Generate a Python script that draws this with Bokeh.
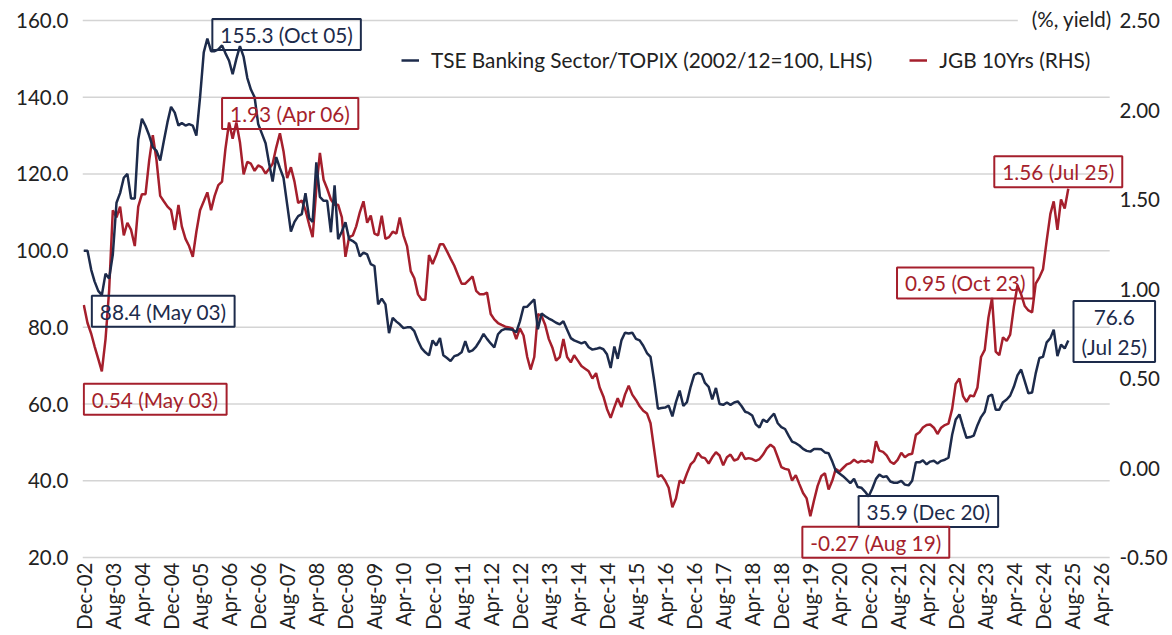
import pandas as pd
from bokeh.plotting import figure
from bokeh.models import (Range1d, LinearAxis, FixedTicker, NumeralTickFormatter,
                          DatetimeTickFormatter, Label)
from bokeh.embed import file_html
from bokeh.resources import INLINE

# ---------------- data (monthly, Dec-2002 .. Jul-2025) ----------------
start_month = "2002-12-01"

banking = [
    100.0, 100.0, 95.0, 92.0, 89.5, 88.4, 94.0, 92.7, 99.0, 112.5,
    115.0, 119.0, 120.0, 113.6, 113.6, 129.0, 134.4, 132.5, 130.0, 127.0,
    126.0, 123.5, 128.5, 133.5, 137.5, 136.0, 132.6, 133.3, 132.6, 133.0,
    132.6, 130.0, 140.0, 151.7, 155.3, 152.0, 152.0, 152.5, 153.5, 151.5,
    149.5, 146.0, 150.0, 153.3, 150.5, 145.0, 142.0, 140.0, 133.0, 130.5,
    128.0, 123.0, 118.0, 124.4, 121.5, 119.0, 112.0, 105.0, 107.5, 109.0,
    109.5, 115.0, 108.5, 107.5, 123.0, 114.0, 113.0, 113.0, 104.8, 117.0,
    103.0, 105.0, 107.4, 103.0, 102.5, 101.8, 98.5, 99.5, 99.0, 96.5,
    96.0, 86.0, 87.5, 86.0, 78.5, 82.5, 81.5, 80.8, 79.8, 80.0,
    80.0, 79.0, 76.5, 74.5, 73.5, 72.7, 76.6, 75.3, 77.2, 72.7,
    72.0, 71.2, 72.5, 72.8, 73.5, 76.4, 73.6, 74.0, 75.0, 76.5,
    78.3, 77.0, 75.8, 74.8, 78.2, 79.2, 79.6, 79.5, 79.4, 78.7,
    81.5, 85.3, 85.4, 86.3, 87.3, 79.5, 83.6, 82.9, 82.3, 81.8,
    81.2, 80.8, 81.6, 79.4, 77.2, 76.6, 76.2, 75.8, 76.2, 74.8,
    74.2, 74.4, 74.7, 74.3, 73.0, 69.4, 75.0, 71.8, 76.6, 78.6,
    78.4, 78.6, 77.0, 76.6, 75.2, 73.3, 72.3, 66.0, 58.8, 59.0,
    59.1, 59.6, 56.8, 60.5, 63.5, 59.5, 60.5, 64.5, 67.6, 68.1,
    67.8, 65.5, 64.5, 61.2, 64.2, 60.0, 59.8, 60.4, 59.8, 60.4,
    60.7, 59.5, 58.0, 57.7, 57.0, 54.7, 53.9, 56.0, 55.3, 56.5,
    57.5, 55.0, 54.0, 53.5, 51.7, 50.2, 49.8, 49.2, 48.3, 47.8,
    47.6, 48.3, 48.3, 48.2, 47.4, 47.2, 45.0, 42.6, 41.9, 41.2,
    40.3, 39.4, 40.5, 38.4, 38.2, 37.2, 35.9, 38.0, 40.5, 41.6,
    41.0, 41.2, 39.8, 39.5, 39.5, 40.0, 39.0, 38.8, 40.0, 44.8,
    44.8, 45.3, 44.3, 45.0, 45.2, 44.5, 45.2, 45.5, 46.0, 52.0,
    56.0, 57.3, 54.0, 51.2, 51.4, 51.8, 54.5, 56.6, 58.0, 62.0,
    62.5, 58.5, 58.5, 60.5, 61.2, 62.2, 64.5, 67.5, 69.0, 66.0,
    62.8, 63.0, 68.0, 72.0, 72.3, 76.1, 77.2, 79.4, 72.5, 75.5,
    74.5, 76.6,
]

jgb = [
    0.91, 0.81, 0.75, 0.68, 0.61, 0.54, 0.72, 0.99, 1.44, 1.40,
    1.46, 1.30, 1.37, 1.33, 1.24, 1.46, 1.53, 1.53, 1.72, 1.86,
    1.72, 1.52, 1.49, 1.46, 1.44, 1.33, 1.47, 1.35, 1.28, 1.24,
    1.18, 1.32, 1.44, 1.49, 1.54, 1.44, 1.52, 1.58, 1.60, 1.78,
    1.93, 1.84, 1.93, 1.82, 1.64, 1.71, 1.70, 1.66, 1.69, 1.68,
    1.645, 1.67, 1.70, 1.79, 1.87, 1.77, 1.62, 1.68, 1.60, 1.48,
    1.495, 1.44, 1.36, 1.29, 1.56, 1.76, 1.61, 1.56, 1.50, 1.47,
    1.47, 1.40, 1.18, 1.29, 1.30, 1.35, 1.43, 1.49, 1.37, 1.41,
    1.31, 1.30, 1.41, 1.28, 1.29, 1.32, 1.31, 1.40, 1.30, 1.24,
    1.10, 1.06, 0.97, 0.94, 0.94, 1.19, 1.14, 1.19, 1.25, 1.25,
    1.21, 1.17, 1.13, 1.08, 1.03, 1.03, 1.05, 1.07, 0.99, 0.97,
    0.97, 0.98, 0.86, 0.83, 0.81, 0.80, 0.79, 0.785, 0.78, 0.72,
    0.78, 0.74, 0.62, 0.55, 0.62, 0.86, 0.85, 0.80, 0.72, 0.67,
    0.60, 0.62, 0.72, 0.62, 0.59, 0.63, 0.60, 0.57, 0.555, 0.54,
    0.50, 0.53, 0.45, 0.40, 0.33, 0.28, 0.34, 0.39, 0.34, 0.41,
    0.46, 0.41, 0.38, 0.345, 0.32, 0.305, 0.25, 0.10, -0.05, -0.04,
    -0.07, -0.11, -0.22, -0.17, -0.07, -0.085, -0.03, 0.02, 0.04, 0.085,
    0.06, 0.055, 0.025, 0.06, 0.088, 0.07, 0.015, 0.06, 0.075, 0.042,
    0.05, 0.088, 0.05, 0.055, 0.05, 0.04, 0.05, 0.075, 0.11, 0.13,
    0.115, 0.06, 0.005, -0.005, -0.01, -0.07, -0.04, -0.09, -0.14, -0.17,
    -0.27, -0.18, -0.10, -0.045, -0.03, -0.12, -0.07, -0.005, -0.02, 0.00,
    0.02, 0.027, 0.046, 0.03, 0.04, 0.035, 0.042, 0.03, 0.15, 0.097,
    0.09, 0.07, 0.035, 0.023, 0.045, 0.085, 0.06, 0.075, 0.08, 0.185,
    0.20, 0.226, 0.24, 0.243, 0.225, 0.19, 0.225, 0.24, 0.248, 0.33,
    0.47, 0.50, 0.40, 0.37, 0.405, 0.40, 0.45, 0.62, 0.66, 0.84,
    0.95, 0.65, 0.63, 0.73, 0.71, 0.745, 0.90, 1.02, 0.97, 0.905,
    0.88, 0.87, 1.03, 1.065, 1.11, 1.27, 1.42, 1.49, 1.33, 1.50,
    1.45, 1.56,
]

left_ticks = [20, 40, 60, 80, 100, 120, 140, 160]
right_ticks = [-0.5, 0.0, 0.5, 1.0, 1.5, 2.0, 2.5]
tick_first, tick_last = "2002-12-01", "2026-04-01"

banking_name = "TSE Banking Sector/TOPIX (2002/12=100, LHS)"
jgb_name = "JGB 10Yrs (RHS)"

# call-outs: (text, month, value, series)
callouts = [
    ("155.3 (Oct 05)", "2005-10-01", 155.3, "bank"),
    ("88.4 (May 03)", "2003-05-01", 88.4, "bank"),
    ("35.9 (Dec 20)", "2020-12-01", 35.9, "bank"),
    ("76.6\n(Jul 25)", "2025-07-01", 76.6, "bank"),
    ("1.93 (Apr 06)", "2006-04-01", 1.93, "jgb"),
    ("0.54 (May 03)", "2003-05-01", 0.54, "jgb"),
    ("-0.27 (Aug 19)", "2019-08-01", -0.27, "jgb"),
    ("0.95 (Oct 23)", "2023-10-01", 0.95, "jgb"),
    ("1.56 (Jul 25)", "2025-07-01", 1.56, "jgb"),
]

# ---------------- styling / layout ----------------
NAVY = "#1d2b4b"
RED = "#a51f2c"
FONT = "Lato"
FS_TICK = "20.5px"
FS_TEXT = "20.8px"
GRID = "#d4d4d4"
TXT = "#222222"

# screen offsets of call-out boxes (layout only)
offsets = {
    "155.3 (Oct 05)": (5, 4, "left"),
    "88.4 (May 03)": (-10, -16, "left"),
    "35.9 (Dec 20)": (-10, -15, "left"),
    "76.6\n(Jul 25)": (46, 9, "center"),
    "1.93 (Apr 06)": (-7, 9, "left"),
    "0.54 (May 03)": (-18, -28, "left"),
    "-0.27 (Aug 19)": (-8, -26, "left"),
    "0.95 (Oct 23)": (-95, 15, "left"),
    "1.56 (Jul 25)": (-74, 17, "left"),
}

W, H = 1170, 633
PLOT_L, PLOT_R, PLOT_T, PLOT_B = 82, 1113, 20, 557      # visible plot area (px)
FRAME_R, FRAME_T, FRAME_B = 1169, 2, 560                 # frame incl. call-out room


def ms(d):
    return pd.Timestamp(d).value / 1e6


months = pd.date_range(start_month, periods=len(banking), freq="MS")
ticks = [ms(t) for t in pd.date_range(tick_first, tick_last, freq="8MS")]

x0, x_area_end = ms("2002-11-20"), ms("2026-06-13")
x_per_px = (x_area_end - x0) / (PLOT_R - PLOT_L)
x1 = x_area_end + (FRAME_R - PLOT_R) * x_per_px


def padded(lo, hi):
    per_px = (hi - lo) / (PLOT_B - PLOT_T)
    return Range1d(lo - (FRAME_B - PLOT_B) * per_px, hi + (PLOT_T - FRAME_T) * per_px)


p = figure(width=W, height=H, x_axis_type="datetime",
           output_backend="svg", toolbar_location=None,
           x_range=Range1d(x0, x1),
           y_range=padded(left_ticks[0], left_ticks[-1]),
           min_border_left=PLOT_L, min_border_right=W - FRAME_R,
           min_border_top=FRAME_T, min_border_bottom=H - FRAME_B)
p.outline_line_color = None
p.background_fill_color = "white"
p.border_fill_color = "white"

p.extra_y_ranges = {"jgb": padded(right_ticks[0], right_ticks[-1])}

# left axis
ya = p.yaxis[0]
ya.ticker = FixedTicker(ticks=left_ticks)
ya.formatter = NumeralTickFormatter(format="0.0")

# right axis (labels drawn just right of the visible plot area)
ra = LinearAxis(y_range_name="jgb", ticker=FixedTicker(ticks=right_ticks),
                formatter=NumeralTickFormatter(format="0.00"))
p.add_layout(ra, "right")

# bottom axis
xa = p.xaxis[0]
xa.ticker = FixedTicker(ticks=ticks)
fmt = "%b-%y"
xa.formatter = DatetimeTickFormatter(
    microseconds=fmt, milliseconds=fmt, seconds=fmt, minsec=fmt, minutes=fmt,
    hourmin=fmt, hours=fmt, days=fmt, months=fmt, years=fmt)
xa.major_label_orientation = 3.14159265 / 2

for ax in (ya, ra, xa):
    ax.axis_line_color = None
    ax.major_tick_line_color = None
    ax.minor_tick_line_color = None
    ax.major_tick_out = 0
    ax.major_tick_in = 0
    ax.major_label_text_font = FONT
    ax.major_label_text_font_size = FS_TICK
    ax.major_label_text_color = TXT
ya.major_label_standoff = 14
ra.major_label_standoff = (PLOT_R + 10) - FRAME_R
xa.major_label_standoff = 2

# horizontal gridlines limited to the plot area
p.xgrid.visible = False
p.ygrid.visible = False
p.segment(x0=[x0] * len(left_ticks), y0=left_ticks,
          x1=[x_area_end] * len(left_ticks), y1=left_ticks,
          line_color=GRID, line_width=1.5, level="underlay")

# series
p.line(months, jgb, y_range_name="jgb", line_color=RED, line_width=2.5,
       legend_label=jgb_name)
p.line(months, banking, line_color=NAVY, line_width=2.5,
       legend_label=banking_name)

leg = p.legend[0]
leg.items = list(reversed(leg.items))
leg.orientation = "horizontal"
leg.location = (PLOT_L - 82 + 319, (FRAME_B - FRAME_T) - (48 - FRAME_T) - 24)
leg.label_text_font = FONT
leg.label_text_font_size = FS_TEXT
leg.label_text_color = TXT
leg.glyph_width = 18
leg.glyph_height = 20
leg.label_standoff = 12
leg.spacing = 37
leg.padding = 0
leg.margin = 0
leg.border_line_color = None
leg.background_fill_alpha = 0

# right axis unit label
unit = Label(x=x_area_end, y=right_ticks[-1], y_range_name="jgb",
             text="(%, yield)", text_font=FONT, text_font_size=FS_TICK,
             text_color=TXT, text_align="right", text_baseline="middle",
             x_offset=2, y_offset=2, background_fill_color="white",
             padding=dict(left=14, right=0, top=2, bottom=2))
p.add_layout(unit)

for text, d, v, series in callouts:
    dx, dy, align = offsets[text]
    color = NAVY if series == "bank" else RED
    kw = dict(y_range_name="jgb") if series == "jgb" else {}
    lab = Label(x=ms(d), y=v, x_offset=dx, y_offset=dy, text=text,
                text_font=FONT, text_font_size=FS_TEXT, text_color=color,
                text_align=align, text_baseline="middle",
                border_line_color=color, border_line_width=2,
                background_fill_color=None,
                padding=dict(left=8, right=8, top=3, bottom=3), **kw)
    p.add_layout(lab)

open("out.html", "w").write(file_html(p, INLINE))
